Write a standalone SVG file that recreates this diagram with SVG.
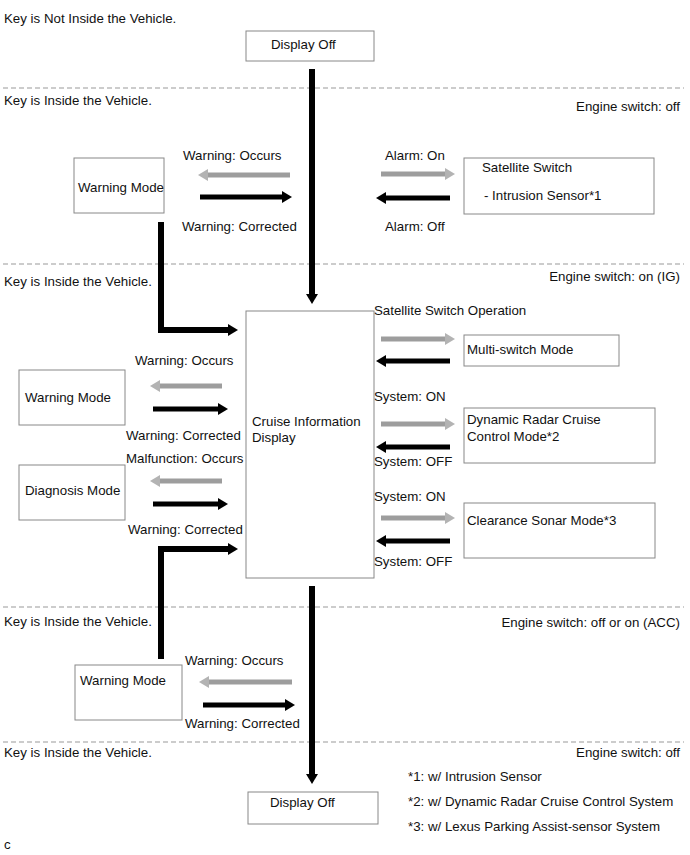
<svg xmlns="http://www.w3.org/2000/svg" width="690" height="855" viewBox="0 0 690 855">
<defs>
<style>
text{font-family:"Liberation Sans",Arial,sans-serif;font-size:13.3px;fill:#111}
.r{text-anchor:end}
.box{fill:#fff;stroke:#888;stroke-width:1}
.dash{stroke:#999;stroke-width:1;stroke-dasharray:5,3;fill:none}
.blk{stroke:#000;stroke-width:5;fill:none;marker-end:url(#hb)}
.gry{stroke:#9d9d9d;stroke-width:5;fill:none;marker-end:url(#hg)}
.thick{stroke:#000;stroke-width:6;fill:none;marker-end:url(#hb)}
</style>
<marker id="hb" viewBox="0 0 10 12" markerWidth="10" markerHeight="12" refX="1" refY="6" orient="auto" markerUnits="userSpaceOnUse">
<path d="M0,0 L10,6 L0,12 z" fill="#000"/>
</marker>
<marker id="hg" viewBox="0 0 10 12" markerWidth="10" markerHeight="12" refX="1" refY="6" orient="auto" markerUnits="userSpaceOnUse">
<path d="M0,0 L10,6 L0,12 z" fill="#b3b3b3"/>
</marker>
</defs>
<rect width="690" height="855" fill="#fff"/>

<g id="separators">
<line class="dash" x1="3" y1="88" x2="684" y2="88"/>
<line class="dash" x1="3" y1="264" x2="684" y2="264"/>
<line class="dash" x1="3" y1="607" x2="684" y2="607"/>
<line class="dash" x1="3" y1="742" x2="684" y2="742"/>
</g>

<g id="section-labels">
<text x="4" y="23">Key is Not Inside the Vehicle.</text>
<text x="4" y="105">Key is Inside the Vehicle.</text>
<text class="r" x="680" y="111">Engine switch: off</text>
<text x="4" y="286">Key is Inside the Vehicle.</text>
<text class="r" x="680" y="281">Engine switch: on (IG)</text>
<text x="4" y="626">Key is Inside the Vehicle.</text>
<text class="r" x="680" y="627">Engine switch: off or on (ACC)</text>
<text x="4" y="757">Key is Inside the Vehicle.</text>
<text class="r" x="680" y="757">Engine switch: off</text>
</g>

<g id="display-off-top">
<rect class="box" x="246" y="31" width="128" height="30"/>
<text x="271" y="49">Display Off</text>
</g>
<g id="warning-mode-1">
<rect class="box" x="74" y="158" width="90" height="55"/>
<text x="78" y="192">Warning Mode</text>
</g>
<g id="satellite-switch">
<rect class="box" x="464" y="158" width="190" height="56"/>
<text x="482" y="172">Satellite Switch</text>
<text x="484" y="200">- Intrusion Sensor*1</text>
</g>
<g id="cruise-info-display">
<rect class="box" x="246" y="311" width="128" height="267"/>
<text x="252" y="426">Cruise Information</text>
<text x="252" y="442">Display</text>
</g>
<g id="multi-switch-mode">
<rect class="box" x="464" y="335" width="155" height="31"/>
<text x="467" y="354">Multi-switch Mode</text>
</g>
<g id="dynamic-radar-mode">
<rect class="box" x="464" y="408" width="191" height="55"/>
<text x="467" y="424">Dynamic Radar Cruise</text>
<text x="467" y="441">Control Mode*2</text>
</g>
<g id="clearance-sonar-mode">
<rect class="box" x="464" y="503" width="191" height="55"/>
<text x="467" y="525">Clearance Sonar Mode*3</text>
</g>
<g id="warning-mode-2">
<rect class="box" x="19" y="370" width="106" height="55"/>
<text x="25" y="402">Warning Mode</text>
</g>
<g id="diagnosis-mode">
<rect class="box" x="19" y="465" width="106" height="55"/>
<text x="25" y="495">Diagnosis Mode</text>
</g>
<g id="warning-mode-3">
<rect class="box" x="75" y="665" width="107" height="55"/>
<text x="80" y="685">Warning Mode</text>
</g>
<g id="display-off-bottom">
<rect class="box" x="248" y="792" width="130" height="32"/>
<text x="270" y="807">Display Off</text>
</g>

<g id="connectors">
<line class="thick" x1="312" y1="69" x2="312" y2="295"/>
<line class="gry" x1="290" y1="175" x2="207" y2="175"/>
<line class="blk" x1="200" y1="197" x2="283" y2="197"/>
<line class="gry" x1="381" y1="174" x2="446" y2="174"/>
<line class="blk" x1="450" y1="198" x2="385" y2="198"/>
<path class="thick" d="M161,222 V330 H229"/>
<line class="gry" x1="222" y1="386" x2="159" y2="386"/>
<line class="blk" x1="153" y1="409" x2="219" y2="409"/>
<line class="gry" x1="222" y1="481" x2="159" y2="481"/>
<line class="blk" x1="153" y1="504" x2="219" y2="504"/>
<path class="thick" d="M161,659 V549 H229"/>
<line class="gry" x1="381" y1="339" x2="446" y2="339"/>
<line class="blk" x1="450" y1="361" x2="385" y2="361"/>
<line class="gry" x1="381" y1="424" x2="446" y2="424"/>
<line class="blk" x1="450" y1="447" x2="385" y2="447"/>
<line class="gry" x1="381" y1="518" x2="446" y2="518"/>
<line class="blk" x1="450" y1="541" x2="385" y2="541"/>
<line class="thick" x1="312" y1="586" x2="312" y2="775"/>
<line class="gry" x1="292" y1="682" x2="208" y2="682"/>
<line class="blk" x1="203" y1="705" x2="286" y2="705"/>
</g>

<g id="connector-labels">
<text x="183" y="160">Warning: Occurs</text>
<text x="182" y="231">Warning: Corrected</text>
<text x="385" y="160">Alarm: On</text>
<text x="385" y="231">Alarm: Off</text>
<text x="374" y="315">Satellite Switch Operation</text>
<text x="135" y="365">Warning: Occurs</text>
<text x="126" y="440">Warning: Corrected</text>
<text x="126" y="463">Malfunction: Occurs</text>
<text x="128" y="534">Warning: Corrected</text>
<text x="374" y="401">System: ON</text>
<text x="374" y="466">System: OFF</text>
<text x="374" y="501">System: ON</text>
<text x="374" y="566">System: OFF</text>
<text x="185" y="665">Warning: Occurs</text>
<text x="185" y="728">Warning: Corrected</text>
</g>

<g id="footnotes">
<text x="408" y="781">*1: w/ Intrusion Sensor</text>
<text x="408" y="806">*2: w/ Dynamic Radar Cruise Control System</text>
<text x="408" y="831">*3: w/ Lexus Parking Assist-sensor System</text>
<text x="4" y="849">c</text>
</g>
</svg>
